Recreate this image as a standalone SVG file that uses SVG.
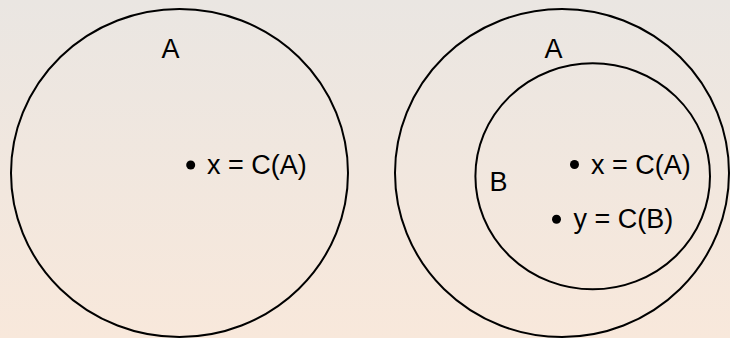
<svg xmlns="http://www.w3.org/2000/svg" width="730" height="338" viewBox="0 0 730 338">
<defs>
<linearGradient id="bg" x1="0" y1="0" x2="0" y2="1">
<stop offset="0" stop-color="#eae6e2"/>
<stop offset="1" stop-color="#f8e8db"/>
</linearGradient>
</defs>
<style>
.set{fill:none;stroke:#000;stroke-width:2}
.pt{fill:#000}
.lbl{font-family:"Liberation Sans",Arial,sans-serif;font-size:27px;fill:#000}
</style>
<rect width="730" height="338" fill="url(#bg)"/>
<g id="setA1">
<ellipse class="set" cx="179.5" cy="173" rx="168.5" ry="164"/>
<text class="lbl" x="161.5" y="57.5">A</text>
</g>
<g id="pointX1">
<circle class="pt" cx="190.7" cy="165" r="4.5"/>
<text class="lbl" x="207" y="173.5">x = C(A)</text>
</g>
<g id="setA2">
<ellipse class="set" cx="562" cy="173" rx="167" ry="164"/>
<text class="lbl" x="544.5" y="57.5">A</text>
</g>
<g id="setB">
<ellipse class="set" cx="592.7" cy="176.3" rx="117.3" ry="113"/>
<text class="lbl" x="489.5" y="191">B</text>
</g>
<g id="pointX2">
<circle class="pt" cx="574.5" cy="164.5" r="4.5"/>
<text class="lbl" x="591" y="173.5">x = C(A)</text>
</g>
<g id="pointY">
<circle class="pt" cx="556.5" cy="219.3" r="4.5"/>
<text class="lbl" x="573.5" y="228">y = C(B)</text>
</g>
<g id="connectors"/>
</svg>
